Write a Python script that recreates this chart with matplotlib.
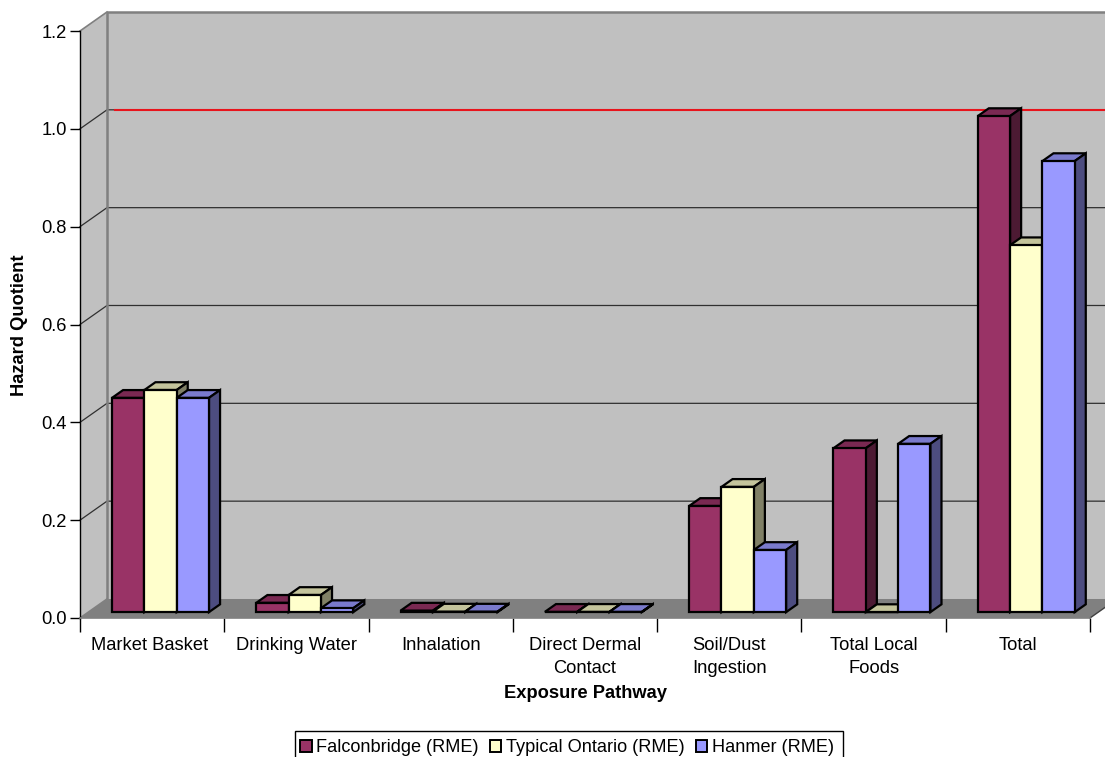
import matplotlib
matplotlib.use("Agg")
import matplotlib.pyplot as plt
from matplotlib.patches import Patch, Polygon, Rectangle
from matplotlib.transforms import ScaledTranslation

plt.rcParams['font.family'] = ['Liberation Sans', 'DejaVu Sans']

categories = ["Market Basket", "Drinking Water", "Inhalation", "Direct Dermal\nContact",
              "Soil/Dust\nIngestion", "Total Local\nFoods", "Total"]
falconbridge = [0.438, 0.019, 0.003, 0.0005, 0.217, 0.335, 1.014]
typical_ontario = [0.454, 0.035, 0.001, 0.0005, 0.256, 0.0, 0.750]
hanmer = [0.438, 0.008, 0.001, 0.0005, 0.127, 0.344, 0.922]
hazard_limit = 1.0
y_ticks = [0.0, 0.2, 0.4, 0.6, 0.8, 1.0, 1.2]

series_names = ["Falconbridge (RME)", "Typical Ontario (RME)", "Hanmer (RME)"]
series_values = [falconbridge, typical_ontario, hanmer]
# front, top and side shades of each series
series_colors = [("#993366", "#7a2952", "#4c1a33"),
                 ("#ffffcc", "#c4c49c", "#808066"),
                 ("#9999ff", "#7a7acc", "#4d4d80")]

# depth of the box, in data units
DX = 27 / 144.3
DY = 19 / 489.0
BAR_W = 0.224
Z_FRONT = 0.31
Z_BACK = 0.72


def project(x, y, z):
    return (x + z * DX, y + z * DY)


def poly(ax, pts, face, edge="none", lw=0.0, zorder=2):
    ax.add_patch(Polygon(pts, closed=True, facecolor=face, edgecolor=edge, linewidth=lw,
                         joinstyle="miter", clip_on=False, zorder=zorder))


def draw_bar(ax, x, value, colors, zorder):
    w = BAR_W
    p = lambda px, py, pz: project(px, py, pz)
    # top and side first so the front face sits over their edges
    poly(ax, [p(x, value, Z_FRONT), p(x + w, value, Z_FRONT),
              p(x + w, value, Z_BACK), p(x, value, Z_BACK)], colors[1], "black", 1.6, zorder)
    poly(ax, [p(x + w, 0, Z_FRONT), p(x + w, 0, Z_BACK),
              p(x + w, value, Z_BACK), p(x + w, value, Z_FRONT)], colors[2], "black", 1.6, zorder)
    poly(ax, [p(x, 0, Z_FRONT), p(x + w, 0, Z_FRONT),
              p(x + w, value, Z_FRONT), p(x, value, Z_FRONT)], colors[0], "black", 1.6, zorder)


fig = plt.figure(figsize=(11.05, 7.57), dpi=100)
ax = fig.add_axes([80 / 1105, 1 - 618 / 757, 1010 / 1105, 587 / 757])
n = len(categories)
y_max = y_ticks[-1]
ax.set_xlim(0, n)
ax.set_ylim(0, y_max)

# walls and floor
poly(ax, [project(0, 0, 1), project(n, 0, 1), project(n, y_max, 1), project(0, y_max, 1)], "#c0c0c0", zorder=0)
poly(ax, [project(0, 0, 0), project(0, 0, 1), project(0, y_max, 1), project(0, y_max, 0)], "#c0c0c0", zorder=0)
poly(ax, [project(0, 0, 0), project(n, 0, 0), project(n, 0, 1), project(0, 0, 1)], "#808080", zorder=0)

for t in y_ticks[1:-1]:
    ax.plot(*zip(project(0, t, 0), project(0, t, 1), project(n, t, 1)), color="#303030", lw=0.9,
            clip_on=False, zorder=1)
ax.plot(*zip(project(0, 0, 1), project(0, y_max, 1), project(n, y_max, 1)), color="#808080", lw=1.8,
        clip_on=False, zorder=1)
ax.plot(*zip(project(0, y_max, 0), project(0, y_max, 1)), color="#808080", lw=1.2, clip_on=False, zorder=1)
ax.plot(*zip(project(0, 0, 0), project(0, 0, 1)), color="#808080", lw=1.2, clip_on=False, zorder=1)
ax.plot(*zip(project(n, 0, 0), project(n, 0, 1)), color="#404040", lw=1.0, clip_on=False, zorder=1)

# hazard quotient limit on the back wall
ax.plot(*zip(project(0.055, hazard_limit, 1), project(n, hazard_limit, 1)), color="#e8141c", lw=1.5,
        clip_on=False, zorder=1.5)

# bars
for c in range(n):
    x0 = c + (1 - 3 * BAR_W) / 2
    for s, values in enumerate(series_values):
        draw_bar(ax, x0 + s * BAR_W, values[c], series_colors[s], 3 + c + s * 0.1)

for side in ("top", "right"):
    ax.spines[side].set_visible(False)
ax.spines["left"].set_linewidth(1.0)
ax.spines["bottom"].set_color("#808080")
ax.spines["bottom"].set_linewidth(1.2)
ax.set_facecolor("none")

ax.set_yticks(y_ticks)
ax.set_yticklabels([f"{t:.1f}" for t in y_ticks])
ax.set_xticks(range(n + 1))
ax.set_xticklabels([])
ax.set_xticks([i + 0.5 for i in range(n)], minor=True)
ax.set_xticklabels(categories, minor=True, linespacing=1.42)
ax.tick_params(axis="y", length=7.2, width=1.0, pad=2.2, labelsize=13.2)
ax.tick_params(axis="x", which="major", length=10, width=1.0)
ax.tick_params(axis="x", which="minor", length=0, pad=14, labelsize=13.2)

# first label sits a little left of its slot
first = ax.get_xticklabels(minor=True)[0]
first.set_transform(first.get_transform() + ScaledTranslation(-3 / 100, 0, fig.dpi_scale_trans))

fig.text(20 / 1105, 1 - 325 / 757, "Hazard Quotient", rotation=90, ha="center", va="center",
         fontsize=13.2, fontweight="bold")
fig.text(585 / 1105, 1 - 694 / 757, "Exposure Pathway", ha="center", va="center",
         fontsize=13.2, fontweight="bold")

# legend frame runs past the bottom of the figure
fig.add_artist(Rectangle((295 / 1105, 1 - 775 / 757), 548 / 1105, 44 / 757, transform=fig.transFigure,
                         facecolor="white", edgecolor="black", linewidth=1.0))
handles = [Patch(facecolor=cols[0], edgecolor="black", linewidth=1.4) for cols in series_colors]
leg = fig.legend(handles, series_names, ncol=3, loc="upper left",
                 bbox_to_anchor=(295 / 1105, 1 - 734 / 757), bbox_transform=fig.transFigure,
                 fontsize=13.1, frameon=False,
                 handlelength=0.62, handleheight=0.62, handletextpad=0.25, columnspacing=0.62,
                 borderpad=0.3, borderaxespad=0)

fig.savefig("out.png", dpi=100)
